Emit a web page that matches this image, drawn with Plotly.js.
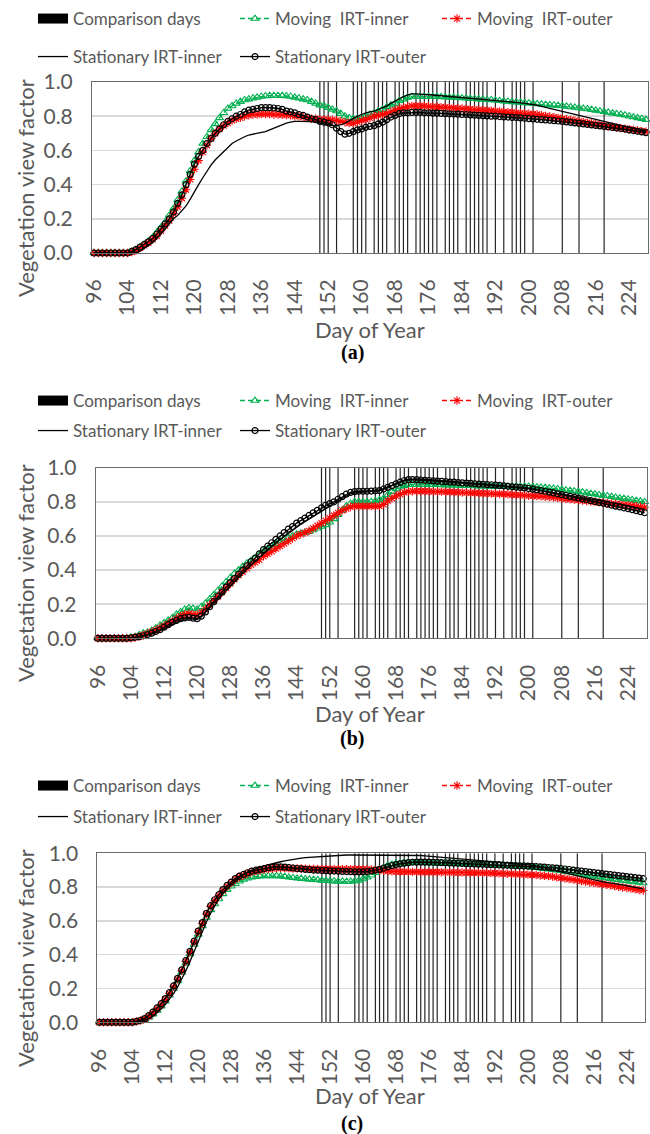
<!DOCTYPE html>
<html><head><meta charset="utf-8">
<script src="https://cdn.plot.ly/plotly-3.0.1.min.js"></script>
<style>html,body{margin:0;padding:0;background:#fff;}#chart{width:650px;height:1134px;}</style>
</head><body><div id="chart"></div>
<script>
// ---------- data ----------
const firstDay = 96, lastDay = 228;
const tickDays = [96,104,112,120,128,136,144,152,160,168,176,184,192,200,208,216,224];
const comparisonDays = [150,151,152,154,158,159,160,161,163,164,165,166,168,169,170,171,173,174,175,176,177,178,180,181,182,183,185,186,187,188,189,190,192,194,196,197,198,199,201,208,212,218];
const seriesNames = ['Comparison days','Moving\u00a0 IRT-inner','Moving\u00a0 IRT-outer','Stationary IRT-inner','Stationary IRT-outer'];
const panelLabels = ['(a)','(b)','(c)'];

// (a)
const aMovingInner = [0,0,0,0,0,0,0,0,0,0.01,
0.02,0.035,0.05,0.07,0.09,0.12,0.15,0.18,0.22,0.26,
0.31,0.36,0.42,0.48,0.54,0.59,0.64,0.68,0.72,0.755,
0.79,0.82,0.845,0.86,0.875,0.885,0.895,0.9,0.905,0.91,
0.915,0.918,0.92,0.92,0.92,0.92,0.918,0.915,0.91,0.905,
0.9,0.895,0.885,0.875,0.865,0.86,0.85,0.84,0.83,0.815,
0.8,0.79,0.785,0.785,0.79,0.8,0.81,0.82,0.83,0.84,
0.855,0.865,0.875,0.89,0.9,0.91,0.915,0.915,0.915,0.915,
0.915,0.915,0.914,0.913,0.912,0.91,0.91,0.908,0.906,0.905,
0.903,0.902,0.9,0.898,0.896,0.895,0.893,0.89,0.888,0.886,
0.884,0.882,0.88,0.878,0.876,0.874,0.872,0.87,0.868,0.866,
0.864,0.862,0.86,0.857,0.854,0.851,0.848,0.845,0.842,0.838,
0.834,0.83,0.826,0.822,0.818,0.814,0.81,0.806,0.8,0.795,
0.79,0.785,0.78];
const aMovingOuter = [0,0,0,0,0,0,0,0,0,0.005,
0.015,0.03,0.045,0.06,0.08,0.1,0.13,0.16,0.19,0.23,
0.27,0.32,0.37,0.43,0.49,0.54,0.59,0.63,0.67,0.7,
0.725,0.745,0.76,0.775,0.785,0.79,0.8,0.805,0.81,0.81,
0.812,0.812,0.812,0.81,0.81,0.808,0.806,0.805,0.8,0.8,
0.795,0.79,0.785,0.785,0.78,0.78,0.78,0.778,0.775,0.77,
0.765,0.76,0.76,0.765,0.775,0.78,0.79,0.8,0.805,0.81,
0.815,0.825,0.835,0.845,0.85,0.855,0.86,0.86,0.86,0.86,
0.858,0.856,0.855,0.853,0.852,0.85,0.848,0.846,0.845,0.843,
0.841,0.84,0.838,0.836,0.834,0.832,0.83,0.828,0.826,0.824,
0.822,0.82,0.818,0.816,0.814,0.812,0.81,0.806,0.802,0.798,
0.794,0.79,0.786,0.782,0.778,0.774,0.77,0.766,0.762,0.758,
0.754,0.75,0.746,0.742,0.738,0.734,0.73,0.727,0.724,0.72,
0.717,0.713,0.71];
const aStationaryInner = [0,0,0,0,0,0,0,0,0,0,
0,0.01,0.025,0.04,0.06,0.085,0.11,0.14,0.17,0.2,
0.22,0.245,0.275,0.315,0.36,0.4,0.44,0.48,0.515,0.545,
0.57,0.595,0.62,0.64,0.655,0.67,0.68,0.69,0.695,0.7,
0.705,0.71,0.72,0.73,0.74,0.75,0.76,0.765,0.77,0.77,
0.77,0.77,0.768,0.765,0.76,0.755,0.75,0.745,0.745,0.75,
0.76,0.775,0.79,0.8,0.81,0.82,0.825,0.83,0.84,0.85,
0.86,0.875,0.89,0.905,0.915,0.925,0.93,0.93,0.93,0.928,
0.926,0.924,0.922,0.92,0.918,0.916,0.914,0.912,0.91,0.908,
0.906,0.904,0.902,0.9,0.898,0.896,0.894,0.892,0.89,0.887,
0.884,0.881,0.878,0.875,0.872,0.868,0.864,0.858,0.852,0.846,
0.84,0.834,0.828,0.822,0.816,0.81,0.804,0.798,0.792,0.786,
0.78,0.774,0.768,0.762,0.756,0.75,0.745,0.74,0.735,0.73,
0.724,0.718,0.712];
const aStationaryOuter = [0,0,0,0,0,0,0,0,0,0.01,
0.02,0.035,0.05,0.065,0.085,0.11,0.14,0.17,0.2,0.24,
0.29,0.34,0.4,0.46,0.52,0.565,0.6,0.64,0.67,0.7,
0.725,0.75,0.77,0.785,0.8,0.81,0.825,0.835,0.84,0.845,
0.85,0.85,0.85,0.848,0.845,0.84,0.83,0.825,0.82,0.81,
0.805,0.795,0.785,0.78,0.77,0.765,0.76,0.75,0.73,0.71,
0.695,0.7,0.71,0.72,0.725,0.735,0.74,0.745,0.755,0.765,
0.78,0.795,0.805,0.815,0.82,0.82,0.822,0.822,0.822,0.82,
0.82,0.818,0.818,0.816,0.815,0.814,0.813,0.812,0.81,0.81,
0.808,0.806,0.805,0.803,0.802,0.8,0.8,0.798,0.796,0.795,
0.793,0.792,0.79,0.788,0.786,0.784,0.782,0.78,0.778,0.776,
0.774,0.772,0.77,0.767,0.764,0.761,0.758,0.755,0.752,0.749,
0.746,0.743,0.74,0.737,0.734,0.731,0.728,0.725,0.72,0.716,
0.712,0.708,0.704];

// (b)
const bMovingInner = [0,0,0,0,0,0,0,0,0.005,0.01,
0.02,0.03,0.035,0.045,0.06,0.075,0.09,0.105,0.12,0.14,
0.155,0.17,0.178,0.175,0.17,0.185,0.205,0.23,0.255,0.28,
0.305,0.33,0.355,0.38,0.4,0.42,0.44,0.455,0.47,0.49,
0.51,0.525,0.54,0.555,0.57,0.58,0.59,0.6,0.61,0.615,
0.62,0.625,0.635,0.645,0.655,0.665,0.68,0.7,0.725,0.75,
0.775,0.79,0.8,0.8,0.8,0.8,0.8,0.805,0.81,0.82,
0.84,0.86,0.875,0.89,0.895,0.9,0.9,0.9,0.9,0.9,
0.9,0.9,0.9,0.899,0.898,0.897,0.897,0.896,0.895,0.895,
0.894,0.893,0.892,0.891,0.89,0.89,0.889,0.889,0.89,0.89,
0.89,0.89,0.89,0.89,0.89,0.888,0.886,0.884,0.883,0.88,
0.878,0.875,0.872,0.869,0.866,0.863,0.86,0.856,0.852,0.848,
0.845,0.841,0.837,0.834,0.83,0.826,0.822,0.819,0.815,0.811,
0.807,0.804,0.8];
const bMovingOuter = [0,0,0,0,0,0,0,0,0,0.005,
0.01,0.018,0.027,0.037,0.048,0.06,0.072,0.085,0.1,0.115,
0.13,0.14,0.145,0.14,0.138,0.15,0.17,0.195,0.22,0.245,
0.27,0.295,0.32,0.345,0.37,0.39,0.41,0.43,0.445,0.46,
0.48,0.495,0.51,0.525,0.54,0.555,0.57,0.585,0.6,0.61,
0.62,0.63,0.645,0.66,0.675,0.69,0.705,0.72,0.735,0.75,
0.76,0.77,0.775,0.775,0.775,0.775,0.775,0.775,0.775,0.785,
0.805,0.82,0.835,0.845,0.855,0.86,0.862,0.862,0.862,0.862,
0.861,0.86,0.86,0.86,0.859,0.858,0.857,0.856,0.855,0.854,
0.853,0.852,0.851,0.85,0.849,0.848,0.847,0.846,0.845,0.844,
0.842,0.84,0.839,0.838,0.836,0.835,0.834,0.833,0.83,0.828,
0.826,0.823,0.82,0.818,0.815,0.813,0.81,0.807,0.805,0.802,
0.8,0.797,0.795,0.792,0.79,0.787,0.785,0.782,0.78,0.777,
0.774,0.771,0.768];
const bStationaryInner = [0,0,0,0,0,0,0,0,0,0.003,
0.007,0.012,0.018,0.025,0.033,0.043,0.055,0.068,0.082,0.095,
0.105,0.112,0.115,0.112,0.11,0.125,0.15,0.178,0.205,0.232,
0.258,0.285,0.31,0.335,0.36,0.385,0.408,0.43,0.452,0.475,
0.497,0.518,0.538,0.558,0.578,0.597,0.616,0.634,0.652,0.668,
0.684,0.7,0.715,0.73,0.745,0.76,0.775,0.79,0.805,0.82,
0.835,0.847,0.853,0.856,0.858,0.86,0.862,0.865,0.868,0.877,
0.887,0.898,0.908,0.918,0.926,0.932,0.934,0.934,0.933,0.932,
0.93,0.928,0.926,0.924,0.922,0.92,0.918,0.916,0.914,0.912,
0.91,0.908,0.906,0.904,0.902,0.9,0.898,0.896,0.894,0.892,
0.89,0.887,0.884,0.881,0.878,0.875,0.871,0.867,0.863,0.859,
0.855,0.851,0.847,0.843,0.839,0.835,0.831,0.827,0.823,0.819,
0.815,0.811,0.806,0.801,0.796,0.791,0.786,0.781,0.776,0.771,
0.766,0.761,0.756];
const bStationaryOuter = [0,0,0,0,0,0,0,0,0.003,0.006,
0.01,0.015,0.022,0.03,0.04,0.05,0.065,0.08,0.095,0.105,
0.115,0.12,0.123,0.118,0.115,0.13,0.155,0.185,0.215,0.245,
0.27,0.3,0.325,0.35,0.375,0.4,0.425,0.45,0.47,0.495,
0.52,0.54,0.56,0.58,0.6,0.62,0.64,0.655,0.675,0.69,
0.705,0.72,0.735,0.75,0.765,0.78,0.79,0.8,0.815,0.83,
0.845,0.855,0.86,0.862,0.862,0.862,0.863,0.865,0.866,0.875,
0.885,0.895,0.905,0.915,0.925,0.93,0.93,0.93,0.928,0.926,
0.925,0.923,0.921,0.92,0.918,0.916,0.915,0.913,0.911,0.91,
0.908,0.906,0.904,0.903,0.901,0.9,0.898,0.896,0.894,0.891,
0.888,0.886,0.884,0.881,0.878,0.874,0.87,0.866,0.862,0.857,
0.852,0.847,0.842,0.837,0.832,0.827,0.822,0.817,0.812,0.807,
0.802,0.797,0.792,0.786,0.78,0.775,0.77,0.765,0.76,0.754,
0.748,0.742,0.736];

// (c)
const cMovingInner = [0,0,0,0,0,0,0,0,0,0.003,
0.008,0.016,0.03,0.048,0.07,0.095,0.125,0.16,0.2,0.245,
0.295,0.35,0.405,0.46,0.52,0.57,0.62,0.665,0.7,0.73,
0.76,0.785,0.805,0.82,0.835,0.845,0.852,0.858,0.862,0.865,
0.866,0.866,0.866,0.866,0.865,0.862,0.858,0.855,0.852,0.85,
0.848,0.846,0.844,0.842,0.84,0.838,0.836,0.835,0.834,0.833,
0.832,0.833,0.836,0.84,0.848,0.858,0.87,0.885,0.9,0.915,
0.928,0.935,0.94,0.942,0.944,0.945,0.945,0.945,0.944,0.944,
0.943,0.943,0.942,0.942,0.941,0.941,0.94,0.94,0.939,0.939,
0.938,0.937,0.936,0.935,0.934,0.933,0.932,0.931,0.93,0.929,
0.928,0.926,0.924,0.922,0.92,0.918,0.915,0.912,0.909,0.906,
0.903,0.9,0.897,0.893,0.889,0.885,0.881,0.877,0.873,0.869,
0.865,0.861,0.857,0.853,0.849,0.845,0.842,0.839,0.836,0.833,
0.83,0.827,0.824];
const cMovingOuter = [0,0,0,0,0,0,0,0,0,0.005,
0.01,0.02,0.035,0.055,0.08,0.105,0.135,0.17,0.21,0.255,
0.305,0.36,0.415,0.475,0.535,0.585,0.64,0.685,0.72,0.75,
0.78,0.805,0.825,0.845,0.86,0.87,0.88,0.89,0.895,0.9,
0.905,0.908,0.91,0.912,0.912,0.912,0.911,0.91,0.91,0.91,
0.909,0.908,0.908,0.907,0.907,0.907,0.906,0.906,0.906,0.906,
0.906,0.906,0.906,0.906,0.905,0.905,0.904,0.902,0.9,0.897,
0.895,0.893,0.892,0.891,0.89,0.89,0.89,0.89,0.889,0.889,
0.889,0.888,0.888,0.888,0.887,0.887,0.887,0.886,0.886,0.886,
0.885,0.885,0.884,0.884,0.883,0.883,0.882,0.881,0.88,0.879,
0.878,0.877,0.876,0.875,0.874,0.873,0.871,0.869,0.867,0.865,
0.862,0.858,0.855,0.851,0.847,0.844,0.84,0.836,0.833,0.829,
0.825,0.821,0.817,0.814,0.81,0.806,0.802,0.798,0.795,0.791,
0.787,0.783,0.78];
const cStationaryInner = [0,0,0,0,0,0,0,0,0,0.002,
0.006,0.012,0.022,0.035,0.055,0.078,0.105,0.135,0.17,0.21,
0.255,0.305,0.36,0.42,0.48,0.54,0.595,0.645,0.69,0.73,
0.765,0.795,0.82,0.84,0.86,0.875,0.89,0.9,0.91,0.918,
0.925,0.932,0.938,0.944,0.95,0.955,0.96,0.964,0.968,0.971,
0.974,0.976,0.978,0.98,0.982,0.984,0.986,0.988,0.99,0.99,
0.99,0.99,0.99,0.99,0.99,0.99,0.99,0.99,0.99,0.99,
0.99,0.99,0.99,0.99,0.99,0.99,0.99,0.989,0.987,0.985,
0.983,0.981,0.979,0.977,0.975,0.973,0.971,0.968,0.965,0.963,
0.961,0.959,0.958,0.956,0.954,0.952,0.95,0.948,0.946,0.944,
0.942,0.94,0.938,0.936,0.935,0.93,0.925,0.92,0.915,0.908,
0.902,0.896,0.89,0.884,0.878,0.872,0.865,0.859,0.853,0.847,
0.84,0.836,0.832,0.828,0.825,0.821,0.817,0.813,0.808,0.803,
0.798,0.794,0.79];
const cStationaryOuter = [0,0,0,0,0,0,0,0,0,0.005,
0.012,0.022,0.04,0.06,0.085,0.11,0.14,0.175,0.215,0.26,
0.31,0.365,0.42,0.48,0.54,0.59,0.645,0.69,0.725,0.755,
0.785,0.81,0.83,0.85,0.865,0.875,0.885,0.895,0.9,0.905,
0.91,0.915,0.918,0.92,0.92,0.918,0.916,0.913,0.91,0.908,
0.905,0.903,0.9,0.9,0.898,0.897,0.896,0.895,0.894,0.893,
0.892,0.891,0.89,0.89,0.89,0.892,0.895,0.9,0.905,0.912,
0.92,0.927,0.933,0.938,0.942,0.945,0.947,0.948,0.948,0.948,
0.948,0.947,0.946,0.945,0.944,0.943,0.942,0.941,0.94,0.939,
0.938,0.937,0.936,0.935,0.934,0.933,0.932,0.931,0.93,0.929,
0.928,0.927,0.926,0.925,0.924,0.923,0.922,0.92,0.918,0.916,
0.914,0.912,0.91,0.907,0.904,0.901,0.898,0.895,0.892,0.889,
0.886,0.883,0.88,0.877,0.874,0.871,0.868,0.865,0.862,0.859,
0.856,0.853,0.85];

// ---------- layout helpers ----------
const W = 650, H = 1134;
const FONT = 'Lato, "Open Sans", sans-serif';
const GREY = '#595959';
const days = [];
for (let d = firstDay; d <= lastDay; d++) days.push(d);

const panels = [
  {series:[aMovingInner,aMovingOuter,aStationaryInner,aStationaryOuter], px:[92,648], py:[82,253], leg:[19,57], ytc:188, xt:330, lab:352},
  {series:[bMovingInner,bMovingOuter,bStationaryInner,bStationaryOuter], px:[95.7,646.7], py:[467.7,638.3], leg:[401,431], ytc:573, xt:713, lab:738},
  {series:[cMovingInner,cMovingOuter,cStationaryInner,cStationaryOuter], px:[97.3,645.3], py:[853.3,1022.3], leg:[786,817], ytc:958, xt:1095, lab:1123}
];

const traces = [];
const layout = {
  width: W, height: H,
  margin: {l:0, r:0, t:0, b:0, pad:0},
  paper_bgcolor: '#fff', plot_bgcolor: '#fff',
  showlegend: true,
  font: {family: FONT, color: GREY},
  annotations: []
};

panels.forEach((p, i) => {
  const s = i === 0 ? '' : String(i + 1);
  const xa = 'x' + s, ya = 'y' + s;
  const leg1 = 'legend' + (i === 0 ? '' : String(2 * i + 1));
  const leg2 = 'legend' + String(2 * i + 2);

  // comparison day vertical lines
  const cx = [], cy = [];
  comparisonDays.forEach(d => { cx.push(d, d, null); cy.push(0, 1, null); });
  traces.push({x: cx, y: cy, type: 'scatter', mode: 'lines', xaxis: xa, yaxis: ya,
    line: {color: '#262626', width: 1.2}, showlegend: false, hoverinfo: 'skip'});
  // legend key for comparison days
  traces.push({x: [null], y: [null], type: 'scatter', mode: 'lines', xaxis: xa, yaxis: ya,
    name: seriesNames[0], legend: leg1, line: {color: '#000', width: 10}, hoverinfo: 'skip'});

  const common = {type: 'scatter', mode: 'lines+markers', x: days, xaxis: xa, yaxis: ya, cliponaxis: false};
  traces.push(Object.assign({}, common, {y: p.series[0], name: seriesNames[1], legend: leg1,
    line: {color: '#00b050', width: 1.5, dash: '5px,3px'},
    marker: {symbol: 'triangle-up-open', size: 7, color: '#00b050', line: {width: 1.1, color: '#00b050'}}}));
  traces.push(Object.assign({}, common, {y: p.series[1], name: seriesNames[2], legend: leg1,
    line: {color: '#ff0000', width: 1.5, dash: '5px,3px'},
    marker: {symbol: 'asterisk-open', size: 7, color: '#ff0000', line: {width: 1.1, color: '#ff0000'}}}));
  traces.push(Object.assign({}, common, {y: p.series[2], name: seriesNames[3], legend: leg2, mode: 'lines',
    line: {color: '#000', width: 1.3}}));
  traces.push(Object.assign({}, common, {y: p.series[3], name: seriesNames[4], legend: leg2,
    line: {color: '#000', width: 1.3},
    marker: {symbol: 'circle-open', size: 6, color: '#000', line: {width: 1.2, color: '#000'}}}));

  layout['xaxis' + s] = {
    domain: [p.px[0] / W, p.px[1] / W], anchor: ya, range: [95.5, 228.5],
    tickmode: 'array', tickvals: tickDays, ticktext: tickDays.map(String), tickangle: -90,
    tickfont: {family: FONT, size: 21, color: GREY}, ticks: '', ticklabelstandoff: 17,
    showgrid: false, zeroline: false, showline: true, mirror: true, linecolor: '#6b6b6b', linewidth: 1,
    fixedrange: true
  };
  layout['yaxis' + s] = {
    domain: [1 - p.py[1] / H, 1 - p.py[0] / H], anchor: xa, range: [0, 1],
    tickmode: 'linear', tick0: 0, dtick: 0.2, tickformat: '.1f',
    tickfont: {family: FONT, size: 21, color: GREY}, ticks: '', ticklabelstandoff: 14,
    showgrid: true, gridcolor: '#d9d9d9', gridwidth: 1.5, zeroline: false,
    showline: true, mirror: true, linecolor: '#6b6b6b', linewidth: 1, fixedrange: true
  };
  const legBase = {orientation: 'h', xanchor: 'left', yanchor: 'middle', x: 33 / W,
    bgcolor: 'rgba(0,0,0,0)', borderwidth: 0, entrywidth: 157, entrywidthmode: 'pixels',
    font: {family: FONT, size: 17, color: GREY}, traceorder: 'normal'};
  layout[leg1] = Object.assign({}, legBase, {y: 1 - p.leg[0] / H});
  layout[leg2] = Object.assign({}, legBase, {y: 1 - p.leg[1] / H});

  layout.annotations.push({text: 'Vegetation view factor', xref: 'paper', yref: 'paper',
    x: 25 / W, y: 1 - p.ytc / H, xanchor: 'center', yanchor: 'middle', textangle: -90, showarrow: false,
    font: {family: FONT, size: 22, color: GREY}});
  layout.annotations.push({text: 'Day of Year', xref: 'paper', yref: 'paper',
    x: 370 / W, y: 1 - p.xt / H, xanchor: 'center', yanchor: 'middle', showarrow: false,
    font: {family: FONT, size: 22, color: GREY}});
  layout.annotations.push({text: '<b>' + panelLabels[i] + '</b>', xref: 'paper', yref: 'paper',
    x: 352 / W, y: 1 - p.lab / H, xanchor: 'center', yanchor: 'middle', showarrow: false,
    font: {family: '"Liberation Serif", "Times New Roman", serif', size: 20, color: '#000'}});
});

Plotly.newPlot('chart', traces, layout, {displayModeBar: false, staticPlot: true});
</script>
</body></html>
